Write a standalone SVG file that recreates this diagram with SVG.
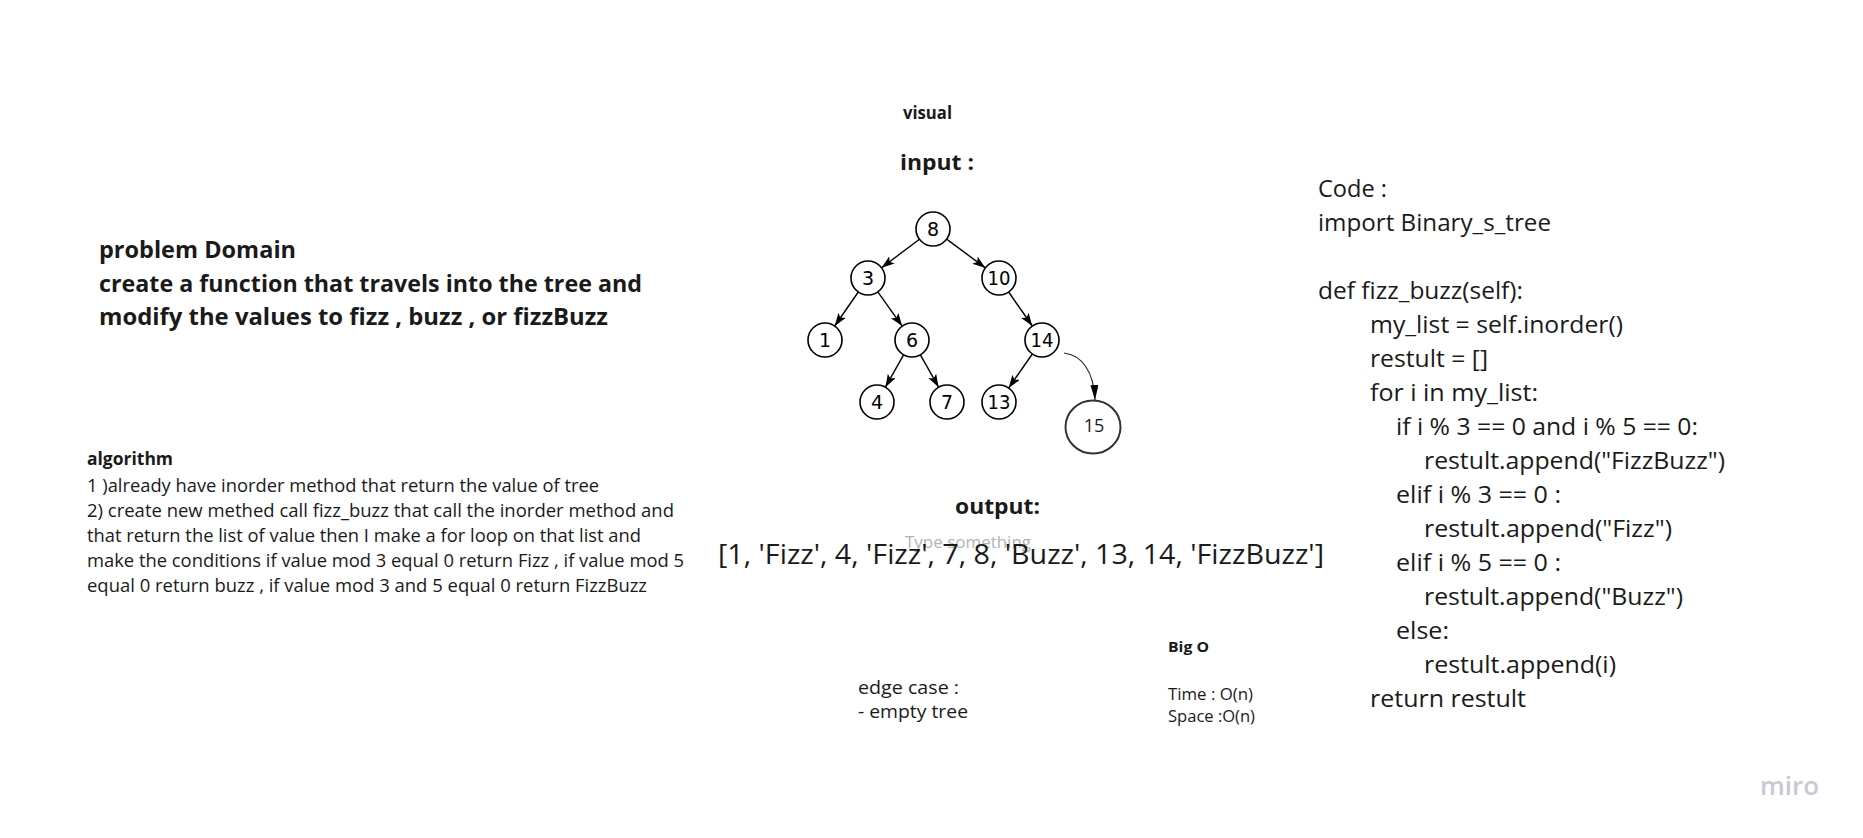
<svg xmlns="http://www.w3.org/2000/svg" width="1863" height="838" viewBox="0 0 1863 838">
<style>
  text { font-family: "Open Sans", "Liberation Sans", sans-serif; fill: #1a1a1a; }
  .b { font-weight: 700; }
  .pd { font-size: 23px; font-weight: 700; }
  .alg { font-size: 18.5px; }
  .code { font-size: 23px; }
  .node circle { fill: #ffffff; stroke: #000000; stroke-width: 1.6; }
  .node text { font-family: "DejaVu Sans", "Liberation Sans", sans-serif; font-size: 19px; fill: #000000; text-anchor: middle; }
  .edge { stroke: #000000; stroke-width: 1.4; fill: none; marker-end: url(#arr); }
  .edge2 { stroke: #222222; stroke-width: 1.1; fill: none; marker-end: url(#arr2); }
</style>
<defs>
  <marker id="arr" markerUnits="userSpaceOnUse" markerWidth="14" markerHeight="10" refX="13" refY="4.5" orient="auto">
    <path d="M0,0 L13,4.5 L0,9 L3,4.5 z" fill="#000000"/>
  </marker>
  <marker id="arr2" markerUnits="userSpaceOnUse" markerWidth="16" markerHeight="10" refX="15" refY="4" orient="auto">
    <path d="M0,0 L15,4 L0,8 z" fill="#000000"/>
  </marker>
</defs>
<rect x="0" y="0" width="1863" height="838" fill="#ffffff"/>

<g id="problem-domain">
  <text class="pd" x="99" y="258" textLength="197" lengthAdjust="spacingAndGlyphs">problem Domain</text>
  <text class="pd" x="99" y="292" textLength="543" lengthAdjust="spacingAndGlyphs">create a function that travels into the tree and</text>
  <text class="pd" x="99" y="325" textLength="509" lengthAdjust="spacingAndGlyphs">modify the values to fizz , buzz , or fizzBuzz</text>
</g>

<g id="algorithm">
  <text class="b" x="87" y="465" font-size="17.5" textLength="86" lengthAdjust="spacingAndGlyphs">algorithm</text>
  <text class="alg" x="87" y="492" textLength="512" lengthAdjust="spacingAndGlyphs">1 )already have inorder method that return the value of tree</text>
  <text class="alg" x="87" y="517" textLength="587" lengthAdjust="spacingAndGlyphs">2) create new methed call fizz_buzz that  call the inorder method and</text>
  <text class="alg" x="87" y="542" textLength="554" lengthAdjust="spacingAndGlyphs">that return the list of value then I make a for loop on that list and</text>
  <text class="alg" x="87" y="567" textLength="597" lengthAdjust="spacingAndGlyphs">make the conditions if value mod 3 equal 0 return Fizz , if value mod 5</text>
  <text class="alg" x="87" y="592" textLength="560" lengthAdjust="spacingAndGlyphs">equal 0 return buzz , if value mod 3 and 5 equal 0 return FizzBuzz</text>
</g>

<g id="visual-title">
  <text class="b" x="903" y="119" font-size="17" textLength="49" lengthAdjust="spacingAndGlyphs">visual</text>
</g>
<g id="input-title">
  <text class="b" x="900" y="170" font-size="22" textLength="74" lengthAdjust="spacingAndGlyphs">input :</text>
</g>

<g id="connectors">
  <line class="edge" x1="919.4" y1="239.2" x2="881.6" y2="267.8"/>
  <line class="edge" x1="946.6" y1="239.1" x2="985.4" y2="267.9"/>
  <line class="edge" x1="858.3" y1="292" x2="834.7" y2="326"/>
  <line class="edge" x1="877.8" y1="291.9" x2="902.2" y2="326.1"/>
  <line class="edge" x1="1008.7" y1="292" x2="1032.3" y2="326"/>
  <line class="edge" x1="903.6" y1="354.8" x2="885.4" y2="387.2"/>
  <line class="edge" x1="920.4" y1="354.8" x2="938.6" y2="387.2"/>
  <line class="edge" x1="1032.3" y1="354" x2="1008.7" y2="388"/>
  <path class="edge2" d="M1064,353 C1082,355 1094,372 1095,400"/>
</g>

<g id="node-8" class="node"><circle cx="933" cy="229" r="17"/><text x="933" y="236">8</text></g>
<g id="node-3" class="node"><circle cx="868" cy="278" r="17"/><text x="868" y="285">3</text></g>
<g id="node-10" class="node"><circle cx="999" cy="278" r="17"/><text x="999" y="285" textLength="23" lengthAdjust="spacingAndGlyphs">10</text></g>
<g id="node-1" class="node"><circle cx="825" cy="340" r="17"/><text x="825" y="347">1</text></g>
<g id="node-6" class="node"><circle cx="912" cy="340" r="17"/><text x="912" y="347">6</text></g>
<g id="node-14" class="node"><circle cx="1042" cy="340" r="17"/><text x="1042" y="347" textLength="23" lengthAdjust="spacingAndGlyphs">14</text></g>
<g id="node-4" class="node"><circle cx="877" cy="402" r="17"/><text x="877" y="409">4</text></g>
<g id="node-7" class="node"><circle cx="947" cy="402" r="17"/><text x="947" y="409">7</text></g>
<g id="node-13" class="node"><circle cx="999" cy="402" r="17"/><text x="999" y="409" textLength="23" lengthAdjust="spacingAndGlyphs">13</text></g>
<g id="node-15">
  <ellipse cx="1093" cy="427" rx="27.5" ry="26.5" fill="#ffffff" stroke="#333333" stroke-width="2"/>
  <text x="1094" y="432" font-size="18" text-anchor="middle" fill="#333333">15</text>
</g>

<g id="output">
  <text class="b" x="955" y="514" font-size="22" textLength="85" lengthAdjust="spacingAndGlyphs">output:</text>
  <text x="905" y="548" font-size="16" style="fill:#b3b3b3" textLength="126" lengthAdjust="spacingAndGlyphs">Type something</text>
  <text x="718" y="564" font-size="28" textLength="606" lengthAdjust="spacingAndGlyphs">[1, 'Fizz', 4, 'Fizz', 7, 8, 'Buzz', 13, 14, 'FizzBuzz']</text>
</g>

<g id="edge-case">
  <text x="858" y="694" font-size="18" textLength="101" lengthAdjust="spacingAndGlyphs">edge case :</text>
  <text x="858" y="718" font-size="18" textLength="110" lengthAdjust="spacingAndGlyphs">- empty tree</text>
</g>

<g id="big-o">
  <text class="b" x="1168" y="652" font-size="15" textLength="41" lengthAdjust="spacingAndGlyphs">Big O</text>
  <text x="1168" y="700" font-size="16" textLength="85" lengthAdjust="spacingAndGlyphs">Time : O(n)</text>
  <text x="1168" y="722" font-size="16" textLength="87" lengthAdjust="spacingAndGlyphs">Space :O(n)</text>
</g>

<g id="code">
  <text class="code" x="1318" y="197" textLength="69" lengthAdjust="spacingAndGlyphs">Code :</text>
  <text class="code" x="1318" y="231" textLength="233" lengthAdjust="spacingAndGlyphs">import Binary_s_tree</text>
  <text class="code" x="1318" y="299" textLength="205" lengthAdjust="spacingAndGlyphs">def fizz_buzz(self):</text>
  <text class="code" x="1370" y="333" textLength="253" lengthAdjust="spacingAndGlyphs">my_list = self.inorder()</text>
  <text class="code" x="1370" y="367" textLength="118" lengthAdjust="spacingAndGlyphs">restult = []</text>
  <text class="code" x="1370" y="401" textLength="168" lengthAdjust="spacingAndGlyphs">for i in my_list:</text>
  <text class="code" x="1396" y="435" textLength="302" lengthAdjust="spacingAndGlyphs">if i % 3 == 0 and i % 5 == 0:</text>
  <text class="code" x="1424" y="469" textLength="301" lengthAdjust="spacingAndGlyphs">restult.append("FizzBuzz")</text>
  <text class="code" x="1396" y="503" textLength="165" lengthAdjust="spacingAndGlyphs">elif i % 3 == 0 :</text>
  <text class="code" x="1424" y="537" textLength="248" lengthAdjust="spacingAndGlyphs">restult.append("Fizz")</text>
  <text class="code" x="1396" y="571" textLength="165" lengthAdjust="spacingAndGlyphs">elif i % 5 == 0 :</text>
  <text class="code" x="1424" y="605" textLength="259" lengthAdjust="spacingAndGlyphs">restult.append("Buzz")</text>
  <text class="code" x="1396" y="639" textLength="53" lengthAdjust="spacingAndGlyphs">else:</text>
  <text class="code" x="1424" y="673" textLength="192" lengthAdjust="spacingAndGlyphs">restult.append(i)</text>
  <text class="code" x="1370" y="707" textLength="156" lengthAdjust="spacingAndGlyphs">return restult</text>
</g>

<g id="miro-logo">
  <text x="1760" y="795" font-size="26" font-weight="600" style="fill:#c9c9d6" textLength="59" lengthAdjust="spacingAndGlyphs">miro</text>
</g>
</svg>
